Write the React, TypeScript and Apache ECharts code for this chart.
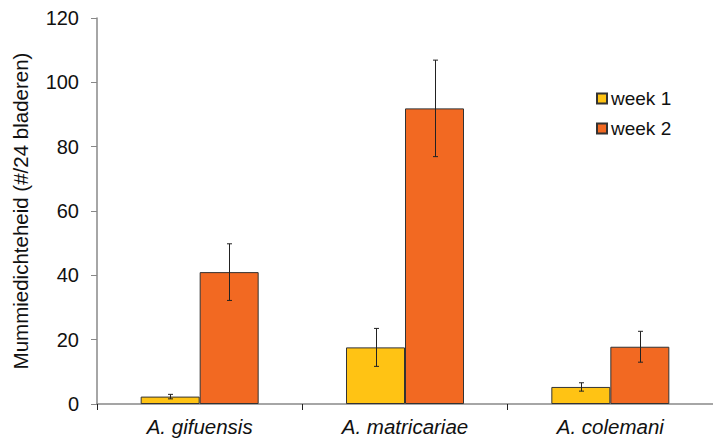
import React, { useEffect, useRef } from "react";
import * as echarts from "echarts";

const categories = ["A. gifuensis", "A. matricariae", "A. colemani"];
const week1 = [2.3, 17.6, 5.3];
const week2 = [41.0, 91.9, 17.8];
const week1Err = [0.7, 5.9, 1.3];
const week2Err = [8.8, 15.0, 4.8];
const yTicks = [0, 20, 40, 60, 80, 100, 120];

const BAR_W = 59;
const FONT = "'Liberation Sans', Arial, sans-serif";

export default function App() {
  const ref = useRef<HTMLDivElement>(null);
  useEffect(() => {
    if (!ref.current) return;
    const chart = echarts.init(ref.current, undefined, { renderer: "svg" });
    const errData: number[][] = [];
    categories.forEach((_, i) => {
      errData.push([i, week1[i] - week1Err[i], week1[i] + week1Err[i], 0]);
      errData.push([i, week2[i] - week2Err[i], week2[i] + week2Err[i], 1]);
    });
    chart.setOption({
      animation: false,
      textStyle: { fontFamily: FONT },
      grid: { left: 97, top: 18, height: 386, width: 620, containLabel: false },
      legend: {
        orient: "vertical",
        left: 591,
        top: 84,
        itemWidth: 10,
        itemHeight: 10,
        itemGap: 11,
        icon: "rect",
        textStyle: { fontSize: 19, color: "#111", fontFamily: FONT, padding: [0, 0, 0, -1] },
        data: ["week 1", "week 2"],
      },
      xAxis: {
        type: "category",
        data: categories,
        axisLine: { lineStyle: { color: "#888", width: 1.5 } },
        axisTick: { show: true, length: 6, lineStyle: { color: "#222" } },
        axisLabel: { fontSize: 20.5, fontStyle: "italic", color: "#111", margin: 12, fontFamily: FONT },
      },
      yAxis: {
        type: "value",
        min: yTicks[0],
        max: yTicks[yTicks.length - 1],
        interval: 20,
        name: "Mummiedichteheid (#/24 bladeren)",
        nameLocation: "middle",
        nameGap: 66,
        nameTextStyle: { fontSize: 20.5, color: "#111", fontFamily: FONT },
        splitLine: { show: false },
        axisLine: { show: true, lineStyle: { color: "#888", width: 1.5 } },
        axisTick: { show: true, length: 6, lineStyle: { color: "#888" } },
        axisLabel: { fontSize: 20, color: "#111", margin: 18, fontFamily: FONT },
      },
      series: [
        {
          name: "week 1",
          type: "bar",
          data: week1,
          barWidth: BAR_W,
          barGap: "0%",
          itemStyle: { color: "#FFC314", borderColor: "#333", borderWidth: 1 },
        },
        {
          name: "week 2",
          type: "bar",
          data: week2,
          barWidth: BAR_W,
          barGap: "0%",
          itemStyle: { color: "#F26922", borderColor: "#333", borderWidth: 1 },
        },
        {
          type: "custom",
          data: errData,
          z: 10,
          renderItem: (params: any, api: any) => {
            const idx = api.value(0);
            const lo = api.coord([idx, api.value(1)]);
            const hi = api.coord([idx, api.value(2)]);
            const s = api.value(3);
            const x = Math.round(lo[0] + (s === 0 ? -BAR_W / 2 : BAR_W / 2)) + 0.5;
            const cap = 2.5;
            const st = { stroke: "#222", lineWidth: 1 };
            return {
              type: "group",
              children: [
                { type: "line", shape: { x1: x, y1: lo[1], x2: x, y2: hi[1] }, style: st },
                { type: "line", shape: { x1: x - cap, y1: lo[1], x2: x + cap, y2: lo[1] }, style: st },
                { type: "line", shape: { x1: x - cap, y1: hi[1], x2: x + cap, y2: hi[1] }, style: st },
              ],
            };
          },
        },
      ],
    });
    return () => chart.dispose();
  }, []);
  return <div ref={ref} style={{ width: 713, height: 443, position: "absolute", left: 0, top: 0 }} />;
}
